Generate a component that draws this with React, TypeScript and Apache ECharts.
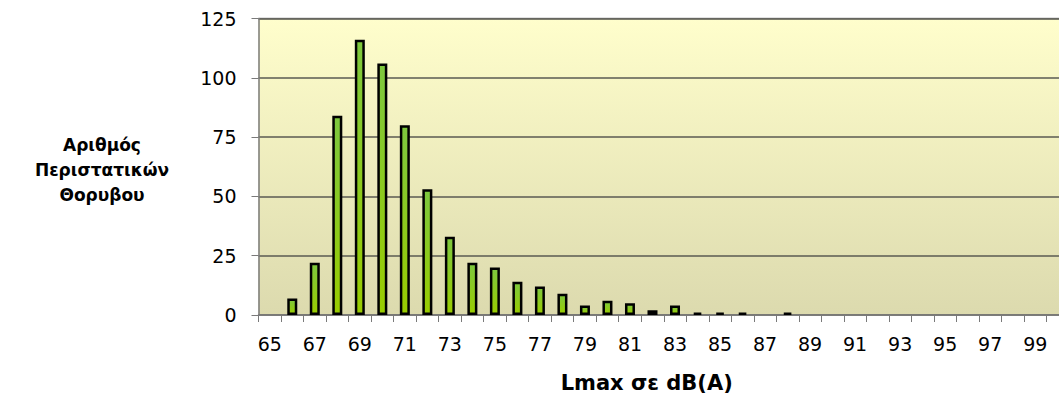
import React, { useEffect, useRef } from "react";
import * as echarts from "echarts";

const categories: string[] = [
  "65","66","67","68","69","70","71","72","73","74","75","76","77","78","79","80","81","82",
  "83","84","85","86","87","88","89","90","91","92","93","94","95","96","97","98","99","100",
];
const counts: number[] = [
  0, 7, 22, 84, 116, 106, 80, 53, 33, 22, 20, 14, 12, 9, 4, 6, 5, 2,
  4, 1, 1, 1, 0, 1, 0, 0, 0, 0, 0, 0, 0, 0, 0, 0, 0, 0,
];
const yTicks = { min: 0, max: 125, interval: 25 };
const yTitleLines: string[] = ["Αριθμός", "Περιστατικών", "Θορυβου"];
const xTitle = "Lmax σε dB(A)";

const FONT = "DejaVu Sans";

export default function App() {
  const ref = useRef<HTMLDivElement>(null);
  useEffect(() => {
    if (!ref.current) return;
    const chart = echarts.init(ref.current, undefined, { renderer: "svg" });
    chart.setOption({
      animation: false,
      backgroundColor: "#ffffff",
      grid: {
        left: 258.5,
        top: 18.5,
        bottom: 86,
        right: -10,
        outerBoundsMode: "none",
        containLabel: false,
        show: true,
        borderWidth: 0,
        backgroundColor: {
          type: "linear", x: 0, y: 0, x2: 0, y2: 1,
          colorStops: [
            { offset: 0, color: "#fffecc" },
            { offset: 1, color: "#dcdaae" },
          ],
        },
      },
      graphic: [
        {
          type: "text",
          x: 102,
          y: 132,
          style: {
            text: yTitleLines.join("\n"),
            font: `bold 17px "${FONT}"`,
            fill: "#000",
            align: "center",
            lineHeight: 25,
          },
        },
        {
          type: "line",
          shape: { x1: 258.5, y1: 18.5, x2: 1059, y2: 18.5 },
          style: { stroke: "#8c8c8c", lineWidth: 1.5 },
        },
      ],
      xAxis: {
        type: "category",
        data: categories,
        boundaryGap: true,
        name: xTitle,
        nameLocation: "middle",
        nameGap: 57,
        nameTextStyle: { fontFamily: FONT, fontWeight: "bold", fontSize: 21, color: "#000", padding: [0, 34, 0, 0] },
        axisLine: { lineStyle: { color: "#7a7a7a", width: 1.5 } },
        axisTick: { show: true, interval: 0, length: 7, lineStyle: { color: "#7a7a7a" } },
        axisLabel: { interval: 1, margin: 19, fontFamily: FONT, fontSize: 19, color: "#000" },
        splitLine: { show: false },
      },
      yAxis: {
        type: "value",
        min: yTicks.min,
        max: yTicks.max,
        interval: yTicks.interval,
        axisLine: { show: true, lineStyle: { color: "#7a7a7a", width: 1.5 } },
        axisTick: { show: true, length: 7, lineStyle: { color: "#7a7a7a" } },
        axisLabel: { margin: 22, fontFamily: FONT, fontSize: 19, color: "#000" },
        splitLine: { show: true, lineStyle: { color: "#5a5a52", width: 1.5 } },
      },
      series: [
        {
          type: "bar",
          data: counts.map((v) => (v === 0 ? null : v)),
          barWidth: 10,
          itemStyle: {
            borderColor: "#000",
            borderWidth: 2.5,
            color: {
              type: "linear", x: 0, y: 0, x2: 0, y2: 1,
              colorStops: [
                { offset: 0, color: "#7ec83e" },
                { offset: 1, color: "#99cc00" },
              ],
            },
          },
        },
      ],
    });
    return () => chart.dispose();
  }, []);
  return (
    <div
      ref={ref}
      style={{ position: "absolute", left: 0, top: 0, width: 1059, height: 401 }}
    />
  );
}
